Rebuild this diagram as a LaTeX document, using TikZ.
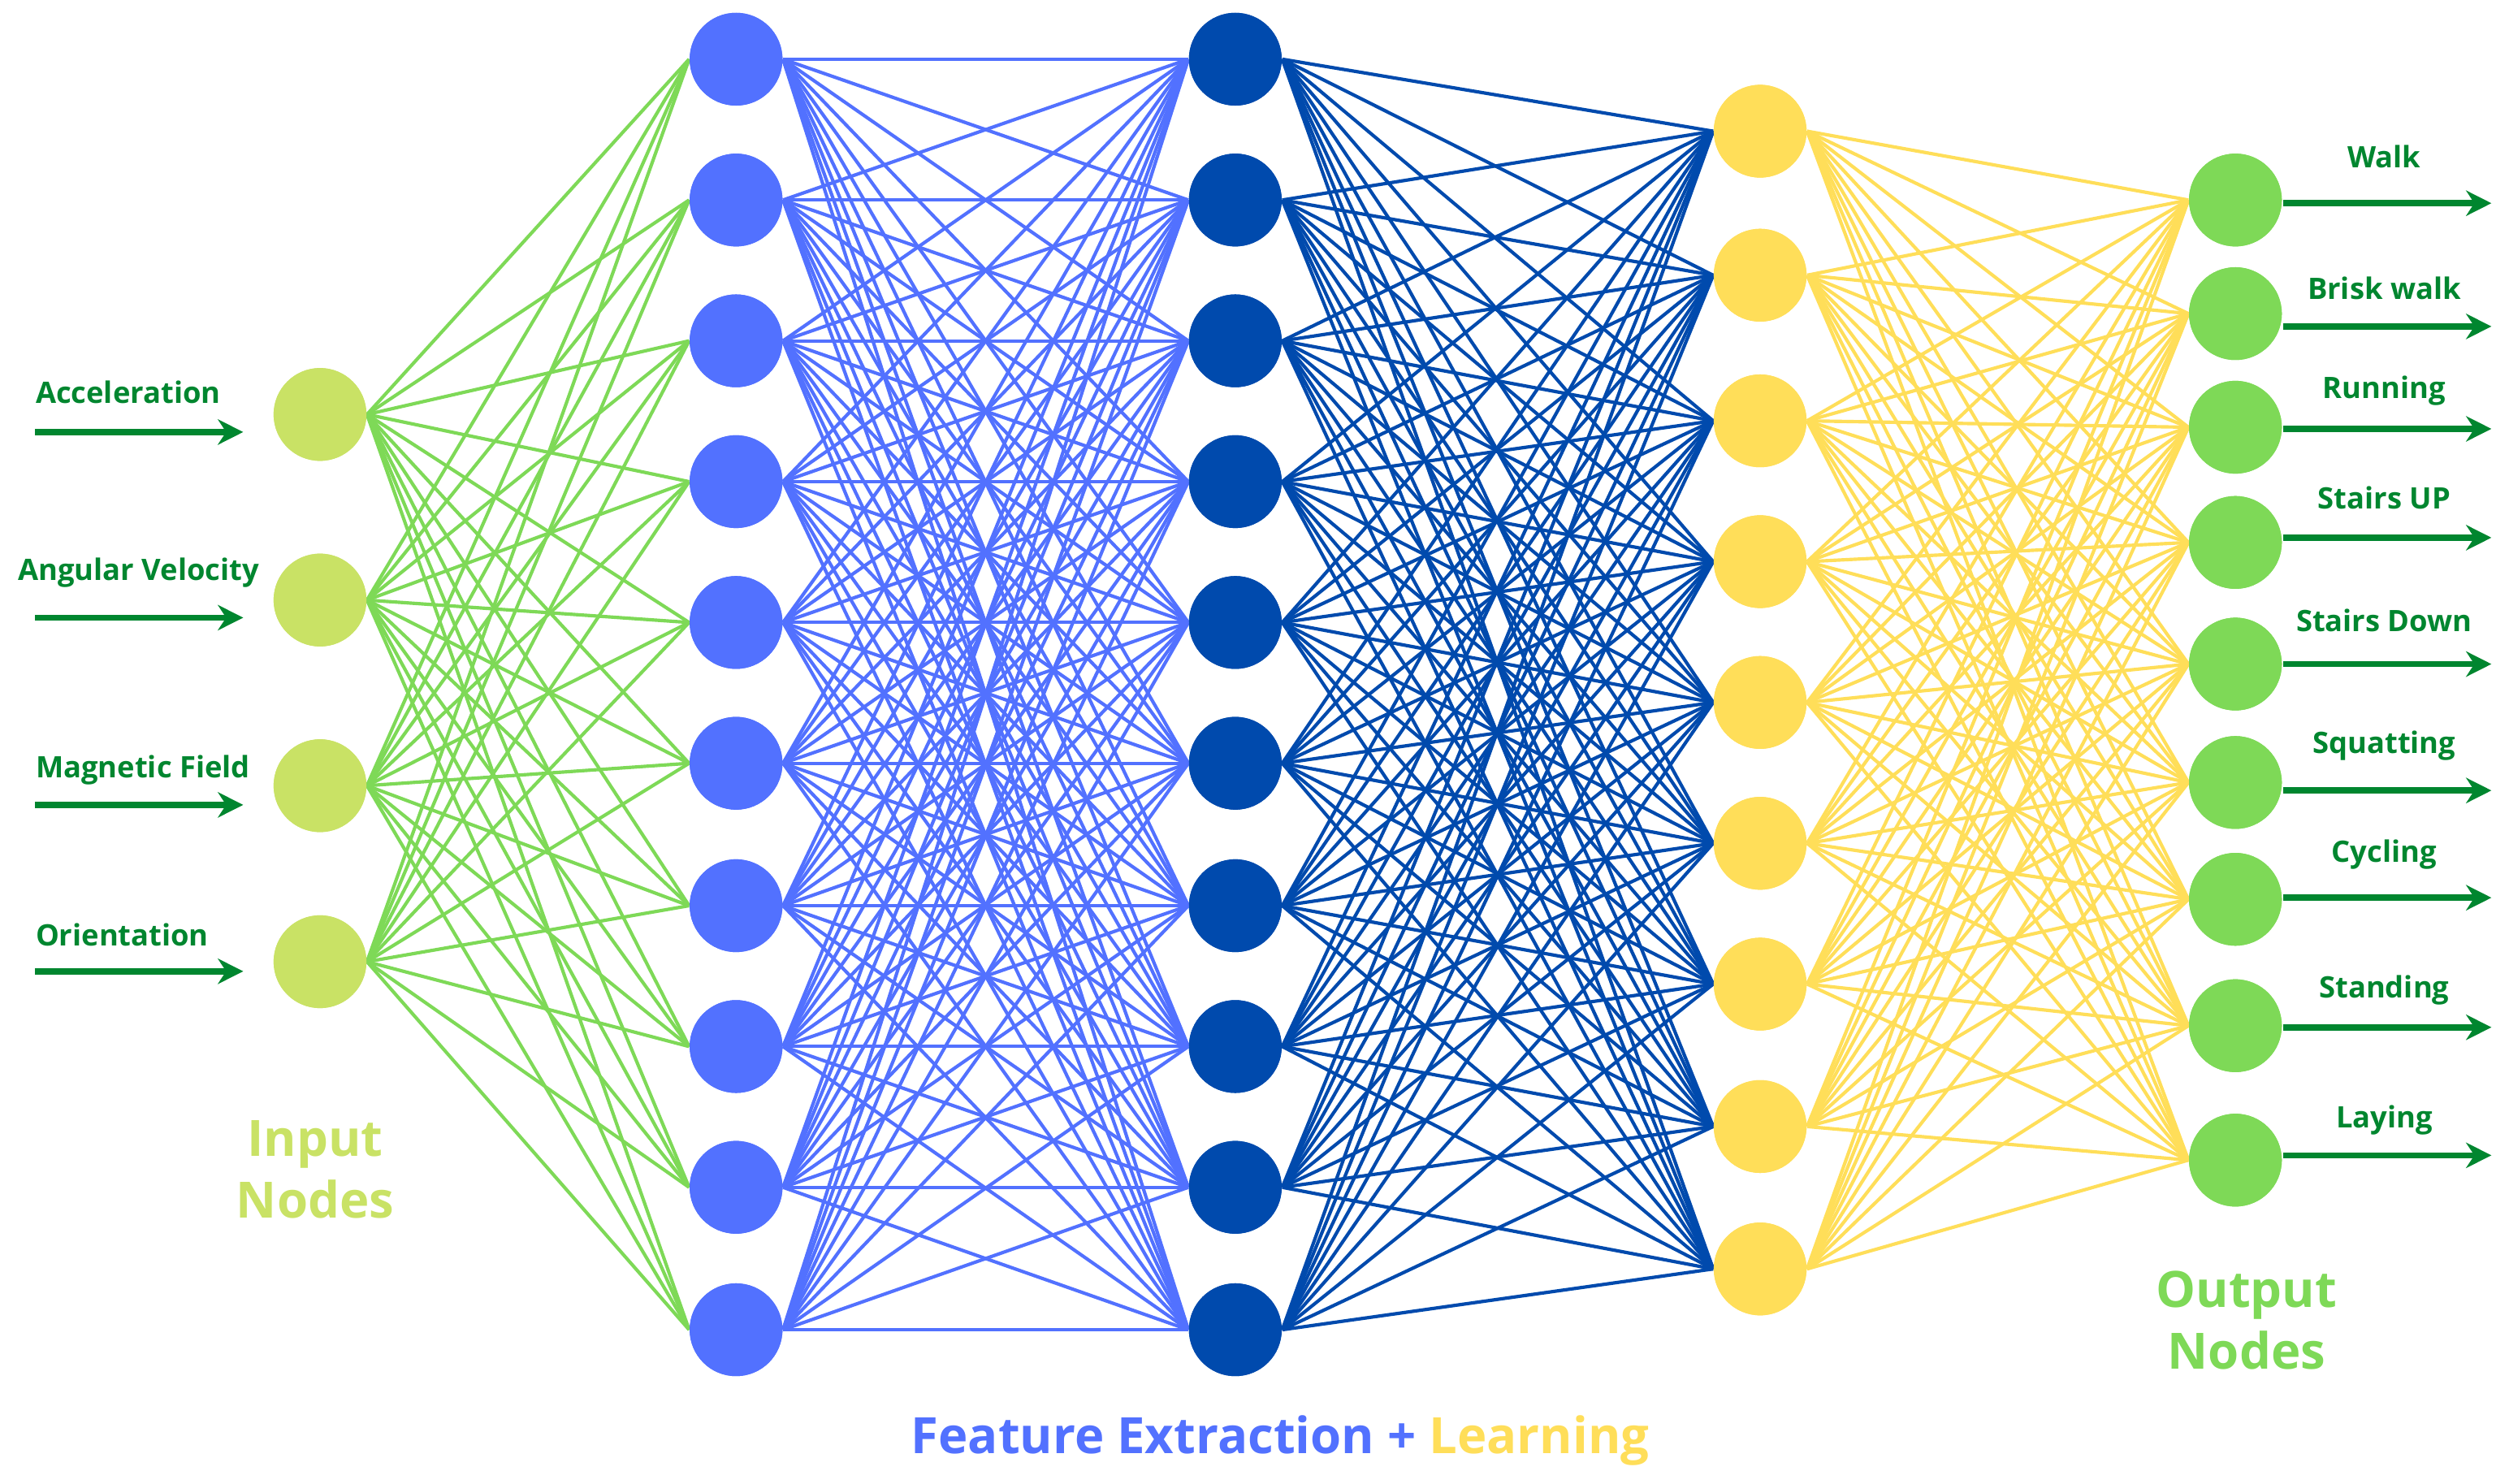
\documentclass[tikz,border=0pt]{standalone}
\usepackage{fontspec}
\setmainfont{Open Sans}
\usetikzlibrary{arrows.meta}
\definecolor{inc}{HTML}{C9E265}
\definecolor{ingl}{HTML}{7ED957}
\definecolor{bl}{HTML}{5271FF}
\definecolor{db}{HTML}{004AAD}
\definecolor{ye}{HTML}{FFDE59}
\definecolor{dg}{HTML}{00862F}
\tikzset{
 neu/.style={circle,minimum size=1.16cm,inner sep=0pt,draw=none},
 edge/.style={line width=1.2pt},
 arr/.style={draw=dg,line width=2.2pt,-{Stealth[length=9pt,width=9pt]}},
 lab/.style={font=\bfseries\fontsize{10.5}{12}\selectfont,text=dg,inner sep=0pt},
 big/.style={font=\bfseries\fontsize{17.8}{22}\selectfont,align=center,inner sep=0pt}
}
\begin{document}
\begin{tikzpicture}[x=0.02cm,y=-0.02cm]
\useasboundingbox (0,0) rectangle (1568,927.4);
% nodes
\foreach \y [count=\i] in {259,375,491,601} \node[neu,fill=inc] (a\i) at (200,\y) {};
\foreach \y [count=\i] in {37,125,213,301,389,477,566,654,742,831} {
 \node[neu,fill=bl] (b\i) at (460,\y) {};
 \node[neu,fill=db] (c\i) at (772,\y) {};}
\foreach \y [count=\i] in {82,172,263,351,439,527,615,704,793} \node[neu,fill=ye] (d\i) at (1100,\y) {};
\foreach \y [count=\i] in {125,196,267,339,415,489,562,641,725} \node[neu,fill=ingl] (e\i) at (1397,\y) {};
% edges
\foreach \i in {1,...,4} \foreach \j in {1,...,10} \draw[edge,ingl] (a\i.east) -- (b\j.west);
\foreach \i in {1,...,10} \foreach \j in {1,...,10} \draw[edge,bl] (b\i.east) -- (c\j.west);
\foreach \i in {1,...,10} \foreach \j in {1,...,9} \draw[edge,db] (c\i.east) -- (d\j.west);
\foreach \i in {1,...,9} \foreach \j in {1,...,9} \draw[edge,ye] (d\i.east) -- (e\j.west);
% redraw nodes on top
\foreach \y in {259,375,491,601} \fill[inc] (200,\y) circle (29);
\foreach \y in {37,125,213,301,389,477,566,654,742,831} {\fill[bl] (460,\y) circle (29); \fill[db] (772,\y) circle (29);}
\foreach \y in {82,172,263,351,439,527,615,704,793} \fill[ye] (1100,\y) circle (29);
\foreach \y in {125,196,267,339,415,489,562,641,725} \fill[ingl] (1397,\y) circle (29);
% input arrows
\foreach \y [count=\i] in {270,386,503,607} {
 \coordinate (ia\i) at (22,\y); \coordinate (ib\i) at (152,\y);
 \draw[arr] (ia\i) -- (ib\i);}
\node[lab,anchor=west] (t1) at (22,245) {Acceleration};
\node[lab,anchor=west] (t2) at (11,358) {Angular Velocity};
\node[lab,anchor=west] (t3) at (22,481) {Magnetic Field};
\node[lab,anchor=west] (t4) at (22,584) {Orientation};
% output arrows
\foreach \y/\ty/\t [count=\i] in {127/98/Walk,204/180/Brisk walk,268/244/Running,336/311/Stairs UP,415/388/Stairs Down,494/466/Squatting,561/534/Cycling,642/619/Standing,722/700/Laying} {
 \coordinate (oa\i) at (1427,\y); \coordinate (ob\i) at (1557,\y);
 \draw[arr] (oa\i) -- (ob\i);
 \node[lab] (ol\i) at (1490,\ty) {\t};}
\node[big,text=inc] (inl) at (197,731) {Input\\Nodes};
\node[big,text=ingl] (outl) at (1404,825) {Output\\Nodes};
\node[big] (fe) at (800,900) {\textcolor{bl}{Feature Extraction +} \textcolor{ye}{Learning}};
\end{tikzpicture}
\end{document}
